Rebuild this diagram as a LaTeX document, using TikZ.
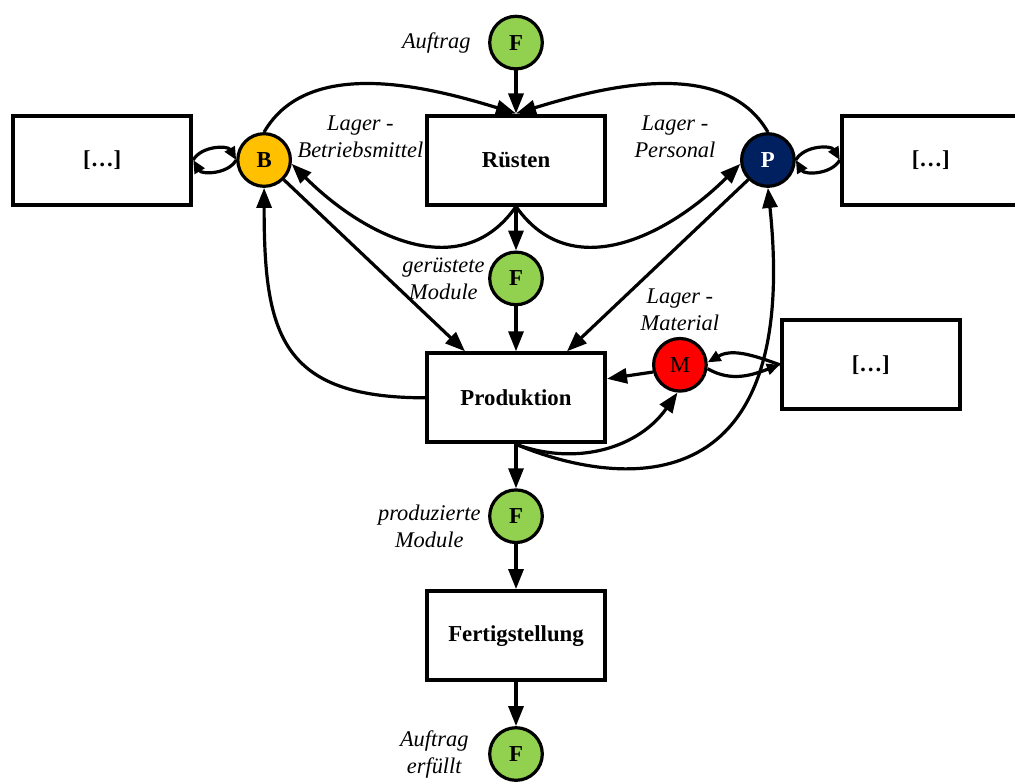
\documentclass[tikz,border=0pt]{standalone}
\usepackage{fontspec}
\setmainfont{Liberation Serif}
\usepackage{tikz}
\usetikzlibrary{arrows.meta,positioning,shadows}

\definecolor{fgreen}{RGB}{146,208,80}
\definecolor{bgold}{RGB}{255,192,0}
\definecolor{pnavy}{RGB}{0,32,96}

\begin{document}
\begin{tikzpicture}[
  x=0.5pt, y=0.5pt, line width=1.6pt,
  font=\fontsize{11.4}{13.5}\selectfont,
  box/.style={draw, fill=white, line width=2pt, minimum width=89pt, minimum height=44.5pt,
    font=\fontsize{11.4}{13.5}\selectfont\bfseries,
    drop shadow={shadow xshift=0.7pt, shadow yshift=-0.7pt, fill=blue!12!white}},
  res/.style={draw, circle, line width=1.6pt, minimum size=26.3pt, inner sep=0pt,
    font=\fontsize{11.4}{13.5}\selectfont\bfseries},
  flow/.style={res, fill=fgreen},
  lbl/.style={inner sep=0pt, align=center, font=\fontsize{11.2}{13.5}\selectfont\itshape},
  lens/.style={-{Triangle[length=6.5pt,width=5.5pt]}},
  >={Triangle[length=10pt,width=7.5pt]}]
  \useasboundingbox (0,0) rectangle (1015,-781);
  \clip (0,0) rectangle (1015,-781);
  % main chain
  \node[box] (ruesten) at (516,-160) {Rüsten};
  \node[flow, above=21.5pt of ruesten] (fauftrag) {F};
  \node[flow, below=22pt of ruesten] (fruest) {F};
  \node[box, below=22.5pt of fruest] (prod) {Produktion};
  \node[flow, below=22pt of prod] (fprod) {F};
  \node[box, below=22.5pt of fprod] (fertig) {Fertigstellung};
  \node[flow, below=22pt of fertig] (fende) {F};
  % resources
  \node[res, fill=bgold, left=66.5pt of ruesten] (bmittel) {B};
  \node[box, left=21.5pt of bmittel] (bmore) {[…]};
  \node[res, fill=pnavy, text=white, right=66.5pt of ruesten] (personal) {P};
  \node[box, right=22pt of personal] (pmore) {[…]};
  \node[res, fill=red, font=\fontsize{11.4}{13.5}\selectfont, right=22.5pt of prod, yshift=16.5pt] (material) {M};
  \node[box, right=36pt of material] (mmore) {[…]};
  % labels
  \node[lbl, left=8pt of fauftrag] (lauftrag) {Auftrag};
  \node[lbl, left=1pt of fruest] (lruest) {gerüstete\\Module};
  \node[lbl, left=3pt of fprod, yshift=-5pt] (lprod) {produzierte\\Module};
  \node[lbl, left=9pt of fende] (lende) {Auftrag\\erfüllt};
  \node[lbl, right=2pt of bmittel, yshift=11.5pt] (lbmittel) {Lager -\\Betriebsmittel};
  \node[lbl, left=11.5pt of personal, yshift=11.5pt] (lpersonal) {Lager -\\Personal};
  \node[lbl, above=2.5pt of material] (lmaterial) {Lager -\\Material};
  % connectors
  \draw[->] (fauftrag) -- (ruesten);
  \draw[->] (bmittel.north) to[out=60, in=163, looseness=0.9] (ruesten.north);
  \draw[->] (personal.north) to[out=120, in=17, looseness=0.9] (ruesten.north);
  \draw[->] (ruesten.south) to[out=-125, in=-45, looseness=1.1] (bmittel.-8);
  \draw[->] (ruesten.south) to[out=-55, in=-135, looseness=1.1] (personal.188);
  \draw[->] (ruesten) -- (fruest);
  \draw[->] (fruest) -- (prod);
  \draw[->] (bmittel.-45) -- ([xshift=-25.5pt]prod.north);
  \draw[->] (personal.-135) -- ([xshift=25.5pt]prod.north);
  \draw[->] (prod.west) to[out=180, in=-90, looseness=1.4] (bmittel.south);
  \draw[->] (material.195) -- ([yshift=9.5pt]prod.east);
  \draw[->] (prod.south) to[out=-20, in=-125] (material.-95);
  \draw[->] (prod.south) to[out=-23, in=-84, out looseness=0.65, in looseness=2.4] (personal.south);
  \draw[->] (prod) -- (fprod);
  \draw[->] (fprod) -- (fertig);
  \draw[->] (fertig) -- (fende);
  % stock exchange
  \draw[lens] (bmore.east) to[bend left=60] (bmittel.west);
  \draw[lens] (bmittel.west) to[bend left=60] (bmore.east);
  \draw[lens] (personal.east) to[bend left=60] (pmore.west);
  \draw[lens] (pmore.west) to[bend left=60] (personal.east);
  \draw[lens] (mmore.west) to[out=160, in=30] (material.5);
  \draw[lens] (material.-8) to[out=-30, in=200] (mmore.west);
\end{tikzpicture}
\end{document}
